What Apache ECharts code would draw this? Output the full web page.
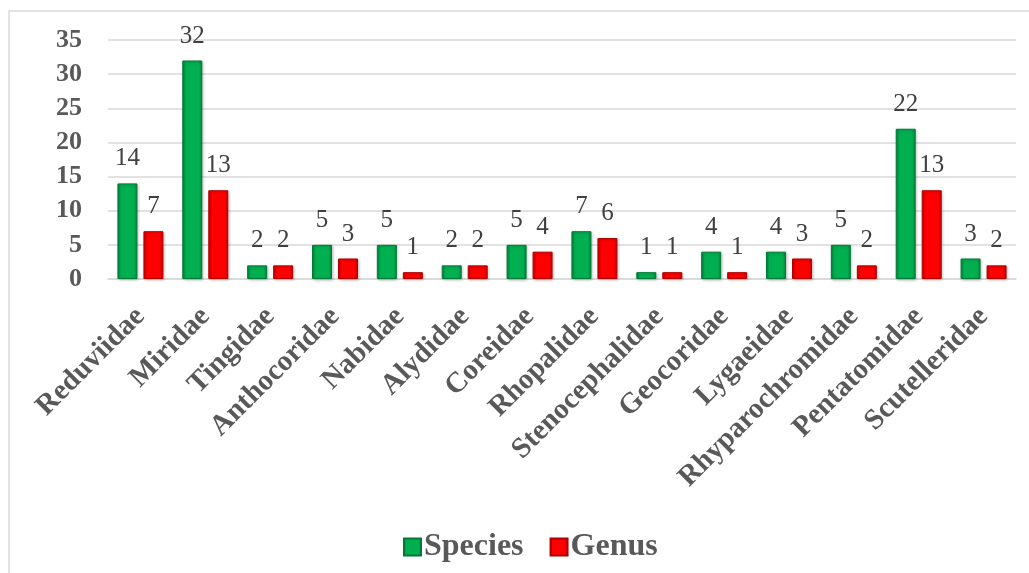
<!DOCTYPE html>
<html>
<head>
<meta charset="utf-8">
<script src="https://cdn.jsdelivr.net/npm/echarts@6/dist/echarts.min.js"></script>
<style>
html,body{margin:0;padding:0;background:#fff;}
#chart{width:1029px;height:573px;}
</style>
</head>
<body>
<div id="chart"></div>
<script>
// Hemiptera families with number of species and genera recorded
const families = ['Reduviidae','Miridae','Tingidae','Anthocoridae','Nabidae','Alydidae','Coreidae','Rhopalidae','Stenocephalidae','Geocoridae','Lygaeidae','Rhyparochromidae','Pentatomidae','Scutelleridae'];
const species = [14,32,2,5,5,2,5,7,1,4,4,5,22,3];
const genus = [7,13,2,3,1,2,4,6,1,1,3,2,13,2];
const yTicks = [0,5,10,15,20,25,30,35];

const serif = '"Liberation Serif","Times New Roman",serif';

// bevelled look: darker left/right edges, bright centre
function barFill(edge, mid) {
  return new echarts.graphic.LinearGradient(0,0,1,0,[
    {offset:0,color:edge},{offset:0.18,color:mid},{offset:0.82,color:mid},{offset:1,color:edge}
  ]);
}

const chart = echarts.init(document.getElementById('chart'));
const labelStyle = {show:true,position:'top',distance:12,fontFamily:serif,fontSize:25,color:'#404040'};

chart.setOption({
  animation:false,
  graphic:[{type:'rect',shape:{x:9,y:11,width:1040,height:600},style:{fill:'none',stroke:'#d9d9d9',lineWidth:1.5},silent:true}],
  grid:{left:108,right:13,top:40,bottom:294},
  legend:{
    left:398,top:526,itemWidth:17,itemHeight:17,itemGap:26,
    icon:'rect',
    textStyle:{fontFamily:serif,fontWeight:'bold',fontSize:32,color:'#595959',padding:[0,0,0,-2]},
    data:['Species','Genus']
  },
  xAxis:{
    type:'category',data:families,
    axisTick:{show:false},
    axisLine:{lineStyle:{color:'#d9d9d9',width:1.5}},
    axisLabel:{rotate:45,interval:0,margin:33,fontFamily:serif,fontWeight:'bold',fontSize:29,color:'#595959'}
  },
  yAxis:{
    type:'value',min:yTicks[0],max:yTicks[yTicks.length-1],interval:5,
    axisLine:{show:false},axisTick:{show:false},
    splitLine:{lineStyle:{color:'#d9d9d9',width:1.5}},
    axisLabel:{margin:26,fontFamily:serif,fontWeight:'bold',fontSize:26,color:'#595959'}
  },
  series:[
    {name:'Species',type:'bar',data:species,barWidth:20,barGap:'30%',
     itemStyle:{color:barFill('#00843b','#00b050'),borderColor:'#007a36',borderWidth:1,shadowColor:'rgba(0,0,0,0.25)',shadowBlur:3,shadowOffsetX:1,shadowOffsetY:1},
     label:labelStyle},
    {name:'Genus',type:'bar',data:genus,barWidth:20,
     itemStyle:{color:barFill('#c80000','#ff0000'),borderColor:'#b00000',borderWidth:1,shadowColor:'rgba(0,0,0,0.25)',shadowBlur:3,shadowOffsetX:1,shadowOffsetY:1},
     label:labelStyle}
  ]
});
</script>
</body>
</html>
